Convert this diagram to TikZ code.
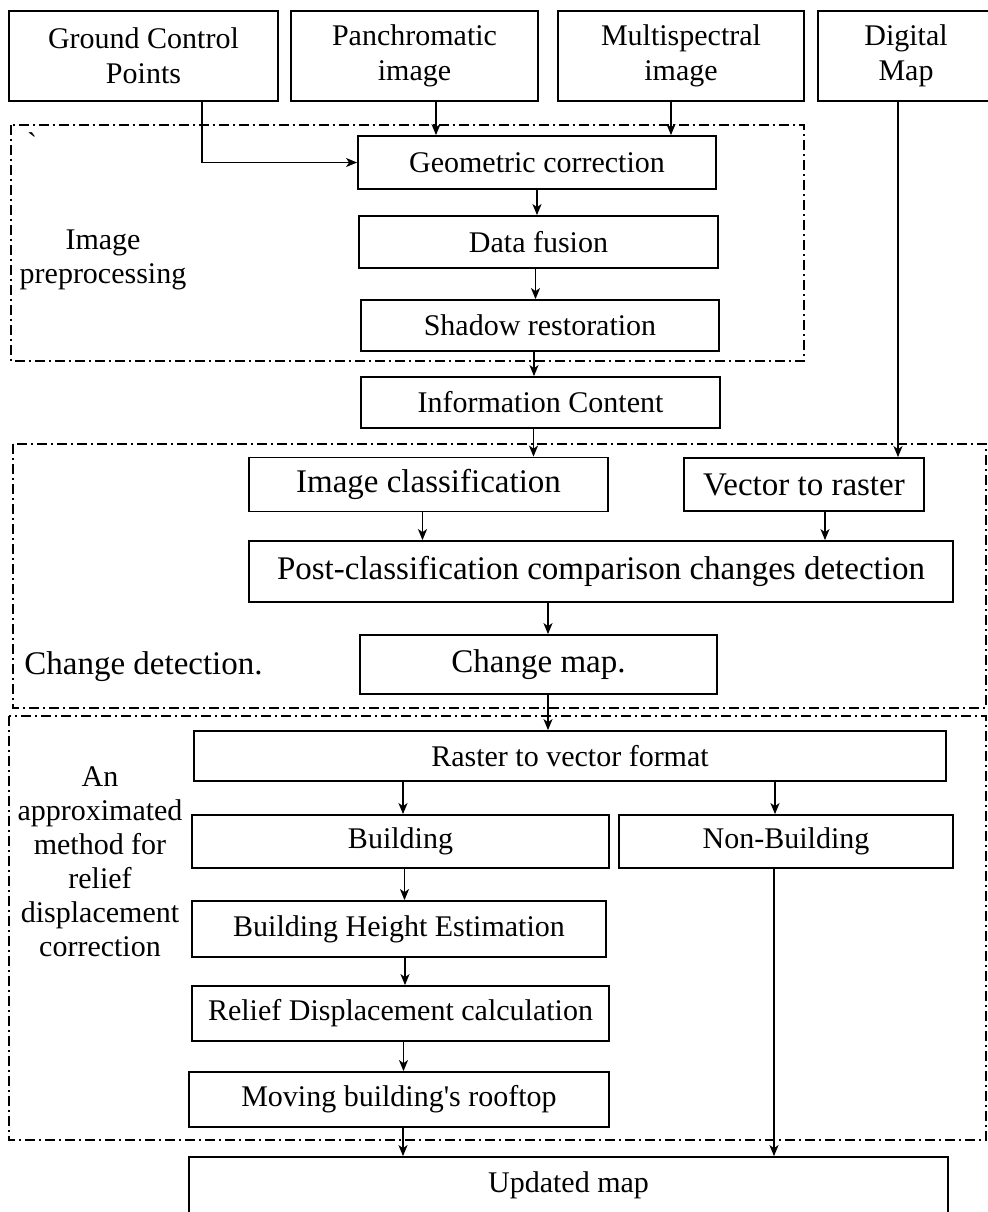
\documentclass[tikz,border=0pt]{standalone}
\usepackage{fontspec}
\setmainfont{Liberation Serif}
\usetikzlibrary{arrows.meta}

\begin{document}
\begin{tikzpicture}[
    x=0.5pt, y=-0.5pt,
    proc/.style={draw, line width=0.9pt, inner sep=0pt, align=center,
        font=\fontsize{15}{17.5}\selectfont},
    big/.style={font=\fontsize{16.5}{19}\selectfont},
    stage/.style={draw, line width=0.7pt, dash pattern=on 5pt off 2pt on 1pt off 2pt},
    flow/.style={line width=0.7pt, -{Stealth[length=5.5pt,width=4.5pt,inset=1.5pt]}},
    lbl/.style={align=center, inner sep=0pt, font=\fontsize{15}{17}\selectfont},
    ]
    \useasboundingbox (0,0) rectangle (988,1212);

    % inputs
    \node [proc, minimum width=134.5pt, minimum height=45pt] (gcp) at (143.5,56) {Ground Control\\Points};
    \node [proc, minimum width=123.5pt, minimum height=45pt] (pan) at (414.5,56) {Panchromatic\\image};
    \node [proc, minimum width=123pt, minimum height=45pt] (mul) at (681,56) {Multispectral\\image};
    \node [proc, minimum width=88pt, minimum height=45pt] (dmap) at (906,56) {Digital\\Map};

    % image preprocessing
    \draw [stage] (11,125) rectangle (804,361);
    \node [lbl] (tick) at (32,143) {\textasciigrave};
    \node [lbl] (prelbl) at (103,260) {Image\\preprocessing};
    \node [proc, minimum width=179pt, minimum height=26.5pt] (geo) at (537,162.5) {Geometric correction};
    \node [proc, minimum width=179.5pt, minimum height=26pt] (fus) at (538.5,242) {Data fusion};
    \node [proc, minimum width=179pt, minimum height=25.5pt] (sha) at (540,325.5) {Shadow restoration};
    \node [proc, minimum width=179.5pt, minimum height=25.5pt] (info) at (540.5,402.5) {Information Content};

    % change detection
    \draw [stage] (13,444) rectangle (986,708);
    \node [lbl, big] (chglbl) at (143.5,667) {Change detection.};
    \node [proc, big, minimum width=179.5pt, minimum height=27pt] (cls) at (428.5,484.5) {Image classification};
    \node [proc, big, minimum width=120pt, minimum height=26.5pt] (v2r) at (804,484.5) {Vector to raster};
    \node [proc, big, minimum width=352pt, minimum height=30.5pt] (post) at (601,571.5) {Post-classification comparison changes detection};
    \node [proc, big, minimum width=178.5pt, minimum height=29.5pt] (cmap) at (538.5,664.5) {Change map.};

    % relief displacement
    \draw [stage] (9,716) rectangle (986,1140);
    \node [lbl] (rellbl) at (100,862) {An\\approximated\\method for\\relief\\displacement\\correction};
    \node [proc, minimum width=376pt, minimum height=25pt] (r2v) at (570,756) {Raster to vector format};
    \node [proc, minimum width=208.5pt, minimum height=26.5pt] (bld) at (400.5,841.5) {Building};
    \node [proc, minimum width=167pt, minimum height=26.5pt] (nbld) at (786,841.5) {Non-Building};
    \node [proc, minimum width=207pt, minimum height=28pt] (bhe) at (399,929) {Building Height Estimation};
    \node [proc, minimum width=208.5pt, minimum height=27.5pt] (rdc) at (400.5,1013.5) {Relief Displacement calculation};
    \node [proc, minimum width=210pt, minimum height=27.5pt] (mbr) at (399,1099.5) {Moving building\textquotesingle s rooftop};

    \node [proc, minimum width=379.5pt, minimum height=28pt] (upd) at (568.5,1185) {Updated map};

    % connectors
    \draw [flow] ([xshift=29.25pt]gcp.south) |- (geo.west);
    \draw [flow] ([xshift=10.75pt]pan.south) -- ([xshift=10.75pt]pan.south |- geo.north);
    \draw [flow] ([xshift=-5pt]mul.south) -- ([xshift=-5pt]mul.south |- geo.north);
    \draw [flow] (geo.south) -- (geo.south |- fus.north);
    \draw [flow] ([xshift=-1.5pt]fus.south) -- ([xshift=-1.5pt]fus.south |- sha.north);
    \draw [flow] ([xshift=-3pt]sha.south) -- ([xshift=-3pt]sha.south |- info.north);
    \draw [flow] ([xshift=-3.5pt]info.south) -- ([xshift=-3.5pt]info.south |- cls.north);
    \draw [flow] ([xshift=-4pt]dmap.south) -- ([xshift=-4pt]dmap.south |- v2r.north);
    \draw [flow] ([xshift=-3pt]cls.south) -- ([xshift=-3pt]cls.south |- post.north);
    \draw [flow] ([xshift=10.5pt]v2r.south) -- ([xshift=10.5pt]v2r.south |- post.north);
    \draw [flow] ([xshift=4.75pt]cmap.north |- post.south) -- ([xshift=4.75pt]cmap.north);
    \draw [flow] ([xshift=4.75pt]cmap.south) -- ([xshift=4.75pt]cmap.south |- r2v.north);
    \draw [flow] ([xshift=1.25pt]bld.north |- r2v.south) -- ([xshift=1.25pt]bld.north);
    \draw [flow] ([xshift=-5.5pt]nbld.north |- r2v.south) -- ([xshift=-5.5pt]nbld.north);
    \draw [flow] ([xshift=2pt]bld.south) -- ([xshift=2pt]bld.south |- bhe.north);
    \draw [flow] ([xshift=3pt]bhe.south) -- ([xshift=3pt]bhe.south |- rdc.north);
    \draw [flow] ([xshift=1.5pt]rdc.south) -- ([xshift=1.5pt]rdc.south |- mbr.north);
    \draw [flow] ([xshift=2pt]mbr.south) -- ([xshift=2pt]mbr.south |- upd.north);
    \draw [flow] ([xshift=-6pt]nbld.south) -- ([xshift=-6pt]nbld.south |- upd.north);
\end{tikzpicture}
\end{document}
